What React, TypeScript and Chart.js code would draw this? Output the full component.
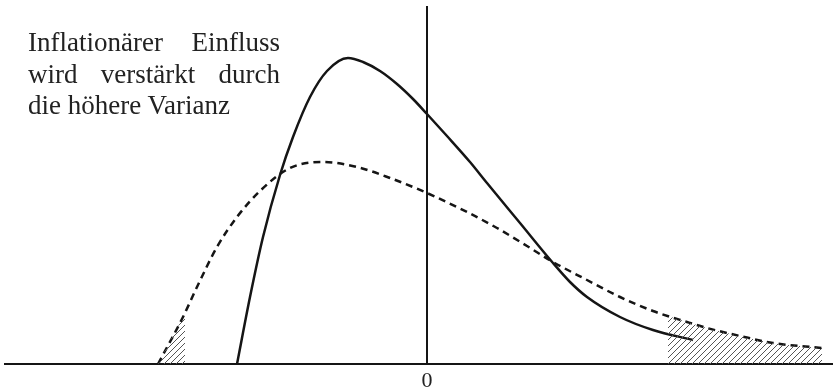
import React, { useEffect, useRef } from "react";
import { Chart, registerables } from "chart.js";

Chart.register(...registerables);

// Solid curve (lower variance)
const solidX = [-1.90, -1.77, -1.64, -1.47, -1.34, -1.17, -1.00, -0.79, -0.64, -0.47, -0.30, -0.14, 0.00, 0.20, 0.43, 0.60, 0.93, 1.26, 1.43, 1.60, 1.93, 2.26, 2.66];
const solidY = [0.00, 0.67, 1.27, 1.89, 2.27, 2.67, 2.93, 3.06, 3.02, 2.93, 2.80, 2.65, 2.50, 2.28, 2.02, 1.81, 1.41, 1.01, 0.82, 0.67, 0.47, 0.34, 0.24];

// Dashed curve (higher variance)
const dashedX = [-2.69, -2.44, -2.30, -2.10, -1.90, -1.67, -1.37, -1.04, -0.70, -0.37, 0.00, 0.40, 0.70, 1.00, 1.26, 1.60, 1.93, 2.26, 2.60, 2.80, 3.13, 3.46, 3.95];
const dashedY = [0.00, 0.47, 0.77, 1.17, 1.47, 1.73, 1.96, 2.02, 1.97, 1.86, 1.71, 1.52, 1.36, 1.18, 1.02, 0.84, 0.67, 0.53, 0.42, 0.36, 0.28, 0.21, 0.16];

// Hatched tails under the dashed curve
const hatchLeftX = [-2.69, -2.56, -2.42];
const hatchLeftY = [0.00, 0.25, 0.50];
const hatchRightX = [2.41, 2.60, 2.80, 3.13, 3.46, 3.95];
const hatchRightY = [0.48, 0.42, 0.36, 0.28, 0.21, 0.16];

const xMin = -4.22;
const xMax = 4.06;
const yMin = 0;
const yMax = 3.58;
const xTickLabels = ["0"];
const xTickValues = [0];

const annotationLines = ["Inflationärer Einfluss", "wird verstärkt durch", "die höhere Varianz"];

const pts = (xs: number[], ys: number[]) => xs.map((x, i) => ({ x, y: ys[i] }));

function makeHatch(): CanvasPattern | string {
  const c = document.createElement("canvas");
  c.width = 6;
  c.height = 6;
  const g = c.getContext("2d");
  if (!g) return "#999";
  g.strokeStyle = "#555";
  g.lineWidth = 1;
  g.beginPath();
  g.moveTo(0, 6);
  g.lineTo(6, 0);
  g.moveTo(-1, 1);
  g.lineTo(1, -1);
  g.moveTo(5, 7);
  g.lineTo(7, 5);
  g.stroke();
  const p = g.createPattern(c, "repeat");
  return p || "#999";
}

export default function App() {
  const ref = useRef<HTMLCanvasElement | null>(null);

  useEffect(() => {
    if (!ref.current) return;
    const hatch = makeHatch();
    const chart = new Chart(ref.current, {
      type: "line",
      data: {
        datasets: [
          {
            data: pts(hatchLeftX, hatchLeftY),
            borderWidth: 0,
            borderColor: "rgba(0,0,0,0)",
            backgroundColor: hatch as any,
            fill: "origin",
            pointRadius: 0,
            cubicInterpolationMode: "monotone",
          },
          {
            data: pts(hatchRightX, hatchRightY),
            borderWidth: 0,
            borderColor: "rgba(0,0,0,0)",
            backgroundColor: hatch as any,
            fill: "origin",
            pointRadius: 0,
            cubicInterpolationMode: "monotone",
          },
          {
            data: pts(dashedX, dashedY),
            borderColor: "#151515",
            borderWidth: 2.5,
            borderDash: [7, 5],
            fill: false,
            pointRadius: 0,
            cubicInterpolationMode: "monotone",
          },
          {
            data: pts(solidX, solidY),
            borderColor: "#151515",
            borderWidth: 2.5,
            fill: false,
            pointRadius: 0,
            cubicInterpolationMode: "monotone",
          },
          {
            data: [
              { x: 0, y: yMin },
              { x: 0, y: yMax },
            ],
            borderColor: "#151515",
            borderWidth: 2,
            fill: false,
            pointRadius: 0,
          },
        ],
      },
      options: {
        animation: false,
        responsive: false,
        maintainAspectRatio: false,
        layout: { padding: { left: 5, right: 0, top: 6, bottom: 0 } },
        plugins: { legend: { display: false }, tooltip: { enabled: false }, title: { display: false } },
        scales: {
          x: {
            type: "linear",
            min: xMin,
            max: xMax,
            grid: { display: false, drawTicks: false },
            border: { display: true, color: "#151515", width: 2 },
            afterBuildTicks: (axis: any) => {
              axis.ticks = xTickValues.map((v) => ({ value: v }));
            },
            afterFit: (axis: any) => {
              axis.height = 26;
            },
            ticks: {
              padding: 4,
              color: "#222",
              font: { family: "'Liberation Serif', 'DejaVu Serif', serif", size: 22 },
              callback: (v: any) => {
                const i = xTickValues.indexOf(Number(v));
                return i >= 0 ? xTickLabels[i] : "";
              },
            },
          },
          y: {
            type: "linear",
            min: yMin,
            max: yMax,
            display: false,
          },
        },
      },
    });
    return () => chart.destroy();
  }, []);

  return (
    <div style={{ position: "fixed", left: 0, top: 0, width: 833, height: 390, background: "#fff" }}>
      <canvas ref={ref} width={833} height={390} style={{ position: "absolute", left: 0, top: 0, width: 833, height: 390 }} />
      <div
        style={{
          position: "absolute",
          left: 28,
          top: 27,
          width: 252,
          fontFamily: "'Liberation Serif', 'DejaVu Serif', serif",
          fontSize: 27,
          lineHeight: "31.5px",
          color: "#222",
        }}
      >
        {annotationLines.map((l, i) => (
          <div
            key={i}
            style={{
              textAlign: i < annotationLines.length - 1 ? "justify" : "left",
              textAlignLast: i < annotationLines.length - 1 ? "justify" : "left",
              whiteSpace: "nowrap",
            }}
          >
            {l}
          </div>
        ))}
      </div>
    </div>
  );
}
